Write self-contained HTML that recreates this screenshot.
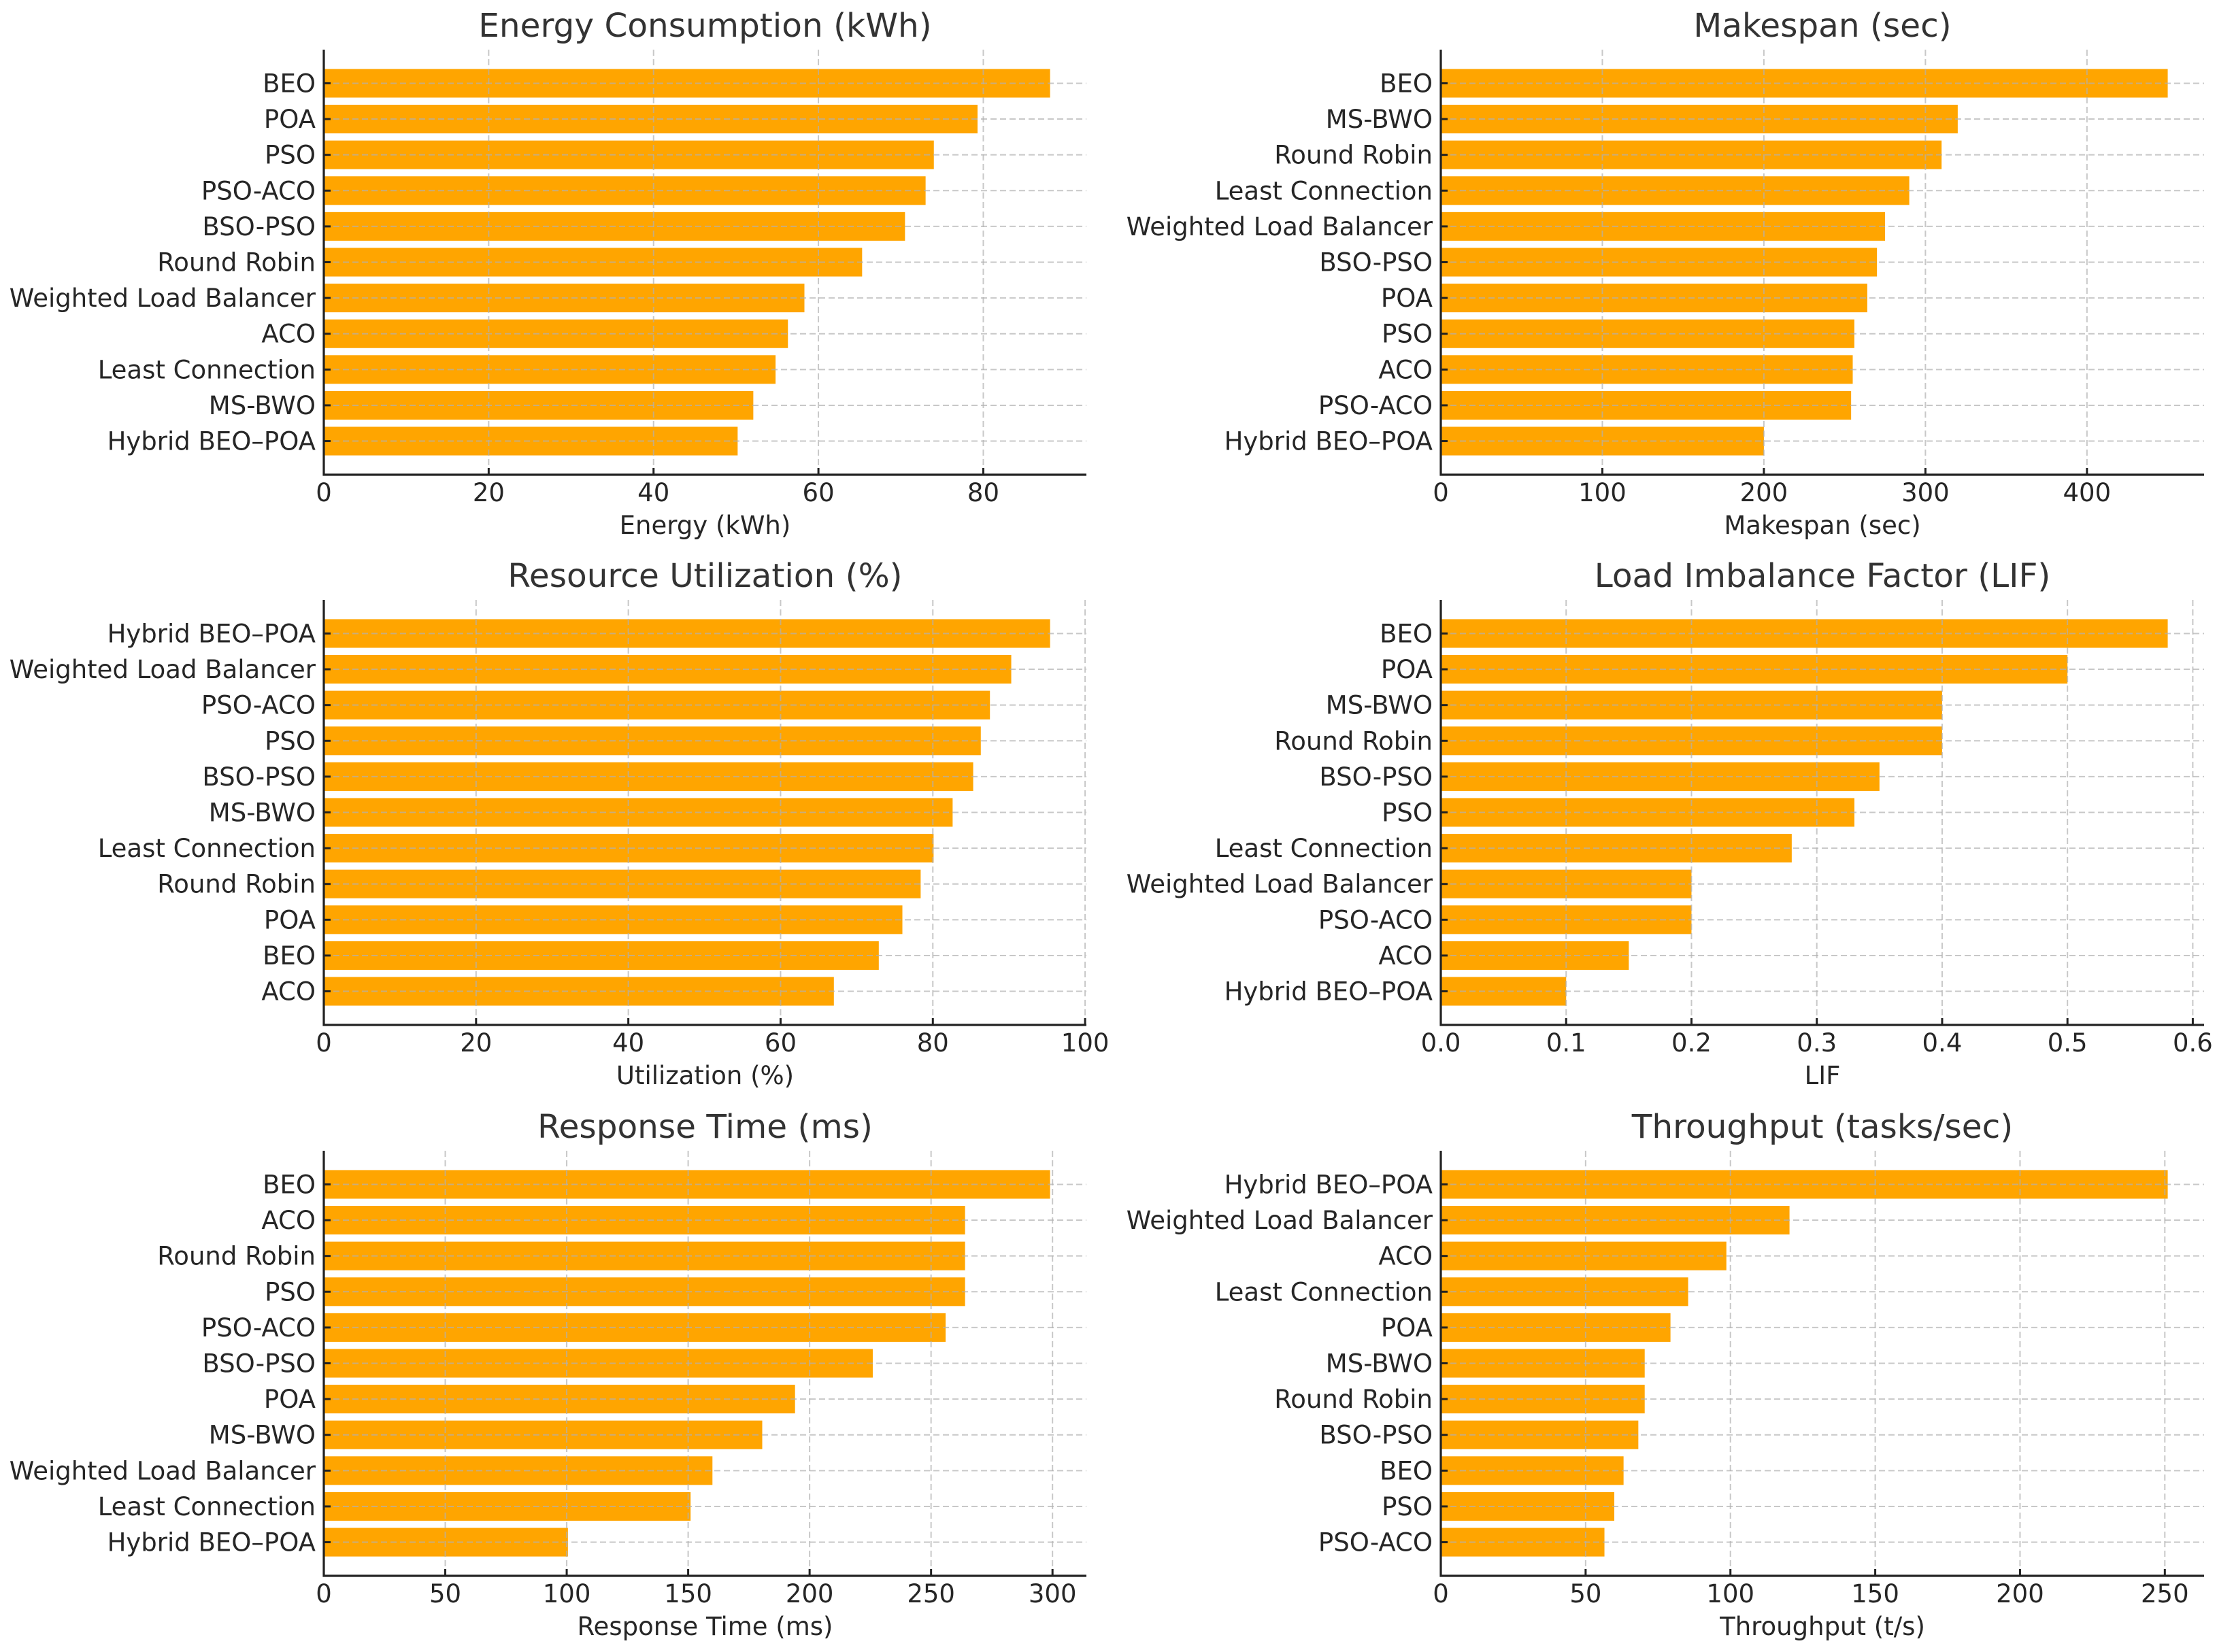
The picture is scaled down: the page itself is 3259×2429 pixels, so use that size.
<!DOCTYPE html>
<html><head><meta charset="utf-8"><style>
html,body{margin:0;padding:0;background:#fff;}
svg{display:block;font-family:"DejaVu Sans","Liberation Sans",sans-serif;}
</style></head><body>
<svg id="fig" width="3259" height="2429" viewBox="0 0 3259 2429" xmlns="http://www.w3.org/2000/svg"></svg>
<script>
// ---- Data ----
const energyCats = ["BEO","POA","PSO","PSO-ACO","BSO-PSO","Round Robin","Weighted Load Balancer","ACO","Least Connection","MS-BWO","Hybrid BEO\u2013POA"];
const energyVals = [88.1,79.3,74.0,73.0,70.5,65.3,58.3,56.3,54.8,52.1,50.2];
const energyTicks = ["0","20","40","60","80"];

const makespanCats = ["BEO","MS-BWO","Round Robin","Least Connection","Weighted Load Balancer","BSO-PSO","POA","PSO","ACO","PSO-ACO","Hybrid BEO\u2013POA"];
const makespanVals = [450,320,310,290,275,270,264,256,255,254,200];
const makespanTicks = ["0","100","200","300","400"];

const utilCats = ["Hybrid BEO\u2013POA","Weighted Load Balancer","PSO-ACO","PSO","BSO-PSO","MS-BWO","Least Connection","Round Robin","POA","BEO","ACO"];
const utilVals = [95.4,90.3,87.5,86.3,85.3,82.6,80.1,78.4,76.0,72.9,67.0];
const utilTicks = ["0","20","40","60","80","100"];

const lifCats = ["BEO","POA","MS-BWO","Round Robin","BSO-PSO","PSO","Least Connection","Weighted Load Balancer","PSO-ACO","ACO","Hybrid BEO\u2013POA"];
const lifVals = [0.58,0.50,0.40,0.40,0.35,0.33,0.28,0.20,0.20,0.15,0.10];
const lifTicks = ["0.0","0.1","0.2","0.3","0.4","0.5","0.6"];

const respCats = ["BEO","ACO","Round Robin","PSO","PSO-ACO","BSO-PSO","POA","MS-BWO","Weighted Load Balancer","Least Connection","Hybrid BEO\u2013POA"];
const respVals = [299,264,264,264,256,226,194,180.5,160,151,100.5];
const respTicks = ["0","50","100","150","200","250","300"];

const thrCats = ["Hybrid BEO\u2013POA","Weighted Load Balancer","ACO","Least Connection","POA","MS-BWO","Round Robin","BSO-PSO","BEO","PSO","PSO-ACO"];
const thrVals = [251,120.4,98.6,85.4,79.3,70.4,70.4,68.2,63.1,59.9,56.5];
const thrTicks = ["0","50","100","150","200","250"];

const NS="http://www.w3.org/2000/svg";
const svg=document.getElementById('fig');
function mk(tag,attrs,parent){const e=document.createElementNS(NS,tag);for(const k in attrs)e.setAttribute(k,attrs[k]);(parent||svg).appendChild(e);return e;}

function panel(key,title,xlabel,cats,vals,ticks,L,R,T,B){
  const g=mk('g',{});
  
  
  const n=cats.length;
  const maxV=Math.max(...vals);
  const xmax=maxV*1.05;
  const xs=v=>L+(v/xmax)*(R-L);
  const ylo=-0.94, yhi=n-1+0.94;
  const ys=i=>T+((i-ylo)/(yhi-ylo))*(B-T);
  const step=(B-T)/(yhi-ylo);
  const bh=step*0.8;
  for(let i=0;i<n;i++){
    const r=mk('rect',{x:L,y:ys(i)-bh/2,width:xs(vals[i])-L,height:bh,fill:'#FFA500'},g);
    
    
  }
  const grid=mk('g',{stroke:'#b0b0b0','stroke-opacity':'0.7','stroke-width':'2','stroke-dasharray':'9,5'},g);
  
  
  for(const t of ticks){const x=xs(parseFloat(t));mk('line',{x1:x,x2:x,y1:T,y2:B},grid);}
  for(let i=0;i<n;i++){mk('line',{x1:L,x2:R,y1:ys(i),y2:ys(i)},grid);}
  const sp=mk('path',{d:`M${L},${T} L${L},${B} L${R},${B}`,fill:'none',stroke:'#222','stroke-width':'3.2'},g);
  
  
  for(let i=0;i<n;i++){
    const y=ys(i);
    mk('line',{x1:L,x2:L+10,y1:y,y2:y,stroke:'#222','stroke-width':'3'},g);
    const tx=mk('text',{x:L-12,y:y+13,'text-anchor':'end','font-size':'37',fill:'#262626'},g);
    tx.textContent=cats[i];
    
    
  }
  for(const t of ticks){
    const x=xs(parseFloat(t));
    mk('line',{x1:x,x2:x,y1:B,y2:B-10,stroke:'#222','stroke-width':'3'},g);
    const tx=mk('text',{x:x,y:B+39,'text-anchor':'middle','font-size':'37',fill:'#262626'},g);
    tx.textContent=t;
    
    
  }
  const xl=mk('text',{x:(L+R)/2,y:B+87,'text-anchor':'middle','font-size':'37',fill:'#262626'},g);
  xl.textContent=xlabel;
  
  
  const tl=mk('text',{x:(L+R)/2,y:T-19,'text-anchor':'middle','font-size':'48.5',fill:'#333'},g);
  tl.textContent=title;
  
  
}
const LL=476, LR=1597, RL=2118, RR=3240;
panel('energy','Energy Consumption (kWh)','Energy (kWh)',energyCats,energyVals,energyTicks,LL,LR,73,698);
panel('makespan','Makespan (sec)','Makespan (sec)',makespanCats,makespanVals,makespanTicks,RL,RR,73,698);
panel('utilization','Resource Utilization (%)','Utilization (%)',utilCats,utilVals,utilTicks,LL,LR,882,1507);
panel('lif','Load Imbalance Factor (LIF)','LIF',lifCats,lifVals,lifTicks,RL,RR,882,1507);
panel('response','Response Time (ms)','Response Time (ms)',respCats,respVals,respTicks,LL,LR,1692,2317);
panel('throughput','Throughput (tasks/sec)','Throughput (t/s)',thrCats,thrVals,thrTicks,RL,RR,1692,2317);
</script>
</body></html>
